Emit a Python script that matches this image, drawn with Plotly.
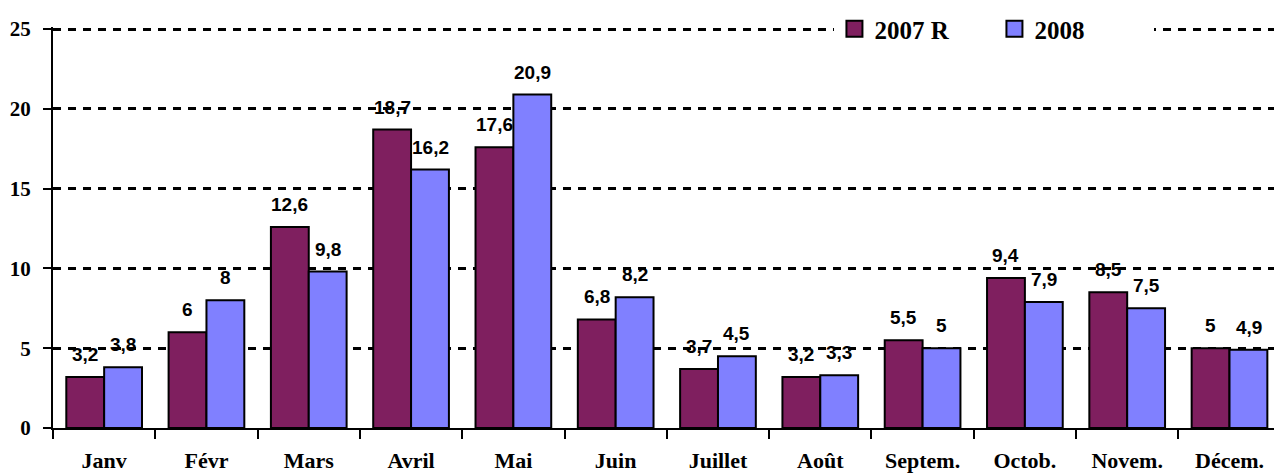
import plotly.graph_objects as go

months = ["Janv", "Févr", "Mars", "Avril", "Mai", "Juin", "Juillet", "Août",
          "Septem.", "Octob.", "Novem.", "Décem."]
v2007 = [3.2, 6, 12.6, 18.7, 17.6, 6.8, 3.7, 3.2, 5.5, 9.4, 8.5, 5]
v2008 = [3.8, 8, 9.8, 16.2, 20.9, 8.2, 4.5, 3.3, 5, 7.9, 7.5, 4.9]
y_ticks = [0, 5, 10, 15, 20, 25]

PURPLE = "#7F1F5F"
BLUE = "#8080FF"
SERIF = "Times New Roman, Liberation Serif, serif"
SANS = "Arial, Liberation Sans, sans-serif"


def fmt(v):
    return f"{v:g}".replace(".", ",")


fig = go.Figure()
for name, vals, color in [("2007 R", v2007, PURPLE), ("2008", v2008, BLUE)]:
    fig.add_trace(go.Bar(
        x=months, y=vals, name=name, showlegend=False,
        marker=dict(color=color, line=dict(color="black", width=2)),
    ))
    # legend proxy, bigger square than the bar symbol
    fig.add_trace(go.Scatter(
        x=[None], y=[None], mode="markers", name=name,
        marker=dict(symbol="square", size=16, color=color,
                    line=dict(color="black", width=2)),
    ))

# data labels
for vals, shift in [(v2007, -19), (v2008, 19)]:
    for m, v in zip(months, vals):
        fig.add_annotation(
            x=m, y=v, text=fmt(v), showarrow=False,
            xshift=shift, yshift=10, yanchor="bottom",
            font=dict(family=SANS, size=19, color="black", weight="bold"),
        )

fig.update_layout(
    width=1274, height=474,
    paper_bgcolor="white", plot_bgcolor="white",
    margin=dict(l=53, r=0, t=27, b=46),
    barmode="group", bargap=0.26, bargroupgap=0,
    xaxis=dict(
        range=[-0.5, 11.435], automargin=False,
        tickson="boundaries", ticks="outside", ticklen=9, tickwidth=2,
        tickcolor="black", showline=True, linecolor="black", linewidth=2,
        showgrid=False, ticklabelstandoff=12,
        tickfont=dict(family=SERIF, size=22, color="black", weight="bold"),
    ),
    yaxis=dict(
        range=[0, 25.13], tickvals=y_ticks, automargin=False,
        ticks="outside", ticklen=8, tickwidth=2, tickcolor="black",
        showline=True, linecolor="black", linewidth=2,
        showgrid=True, gridcolor="black", gridwidth=3, griddash="8px,7px",
        zeroline=False, ticklabelstandoff=8,
        tickfont=dict(family=SERIF, size=21, color="black", weight="bold"),
    ),
    legend=dict(
        orientation="h", x=0.64, y=0.995, xanchor="left", yanchor="middle",
        bgcolor="white", entrywidth=115, entrywidthmode="pixels",
        font=dict(family=SERIF, size=25, color="black", weight="bold"),
    ),
)

fig.write_html("out.html", config={"displayModeBar": False},
               post_script="document.body.style.margin='0';")
